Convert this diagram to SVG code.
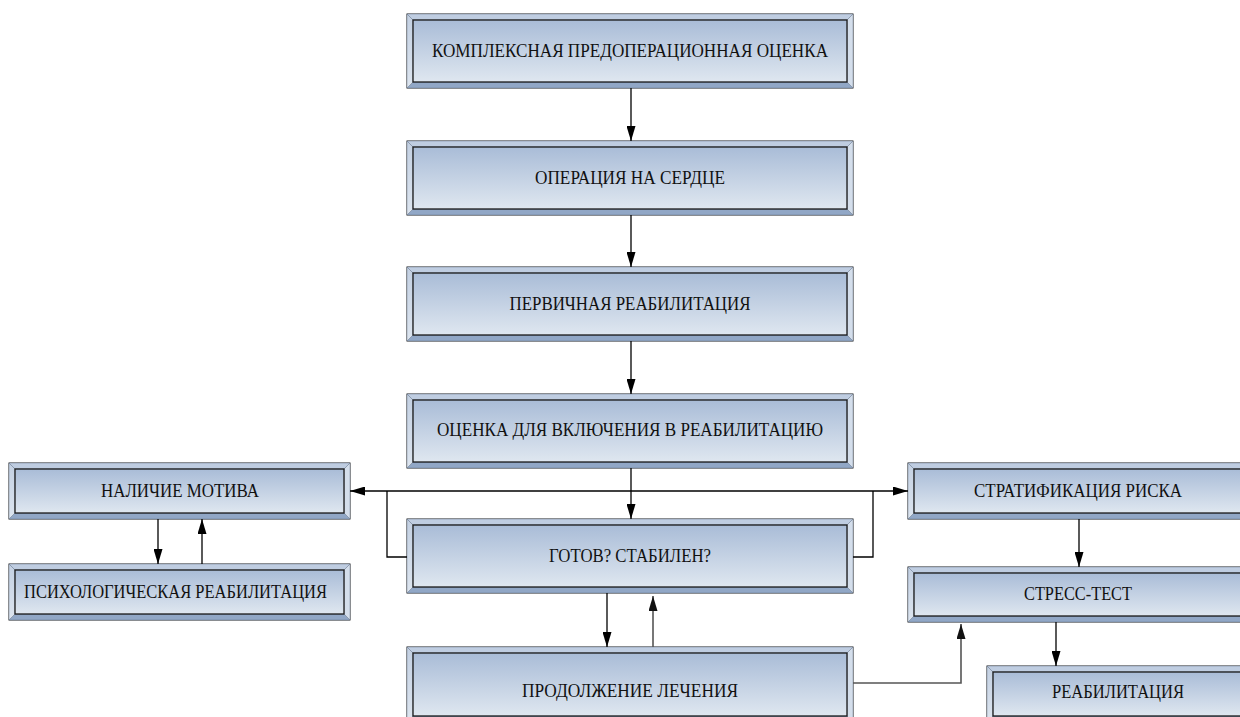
<svg xmlns="http://www.w3.org/2000/svg" width="1240" height="717" viewBox="0 0 1240 717">
<defs>
<linearGradient id="face" x1="0" y1="0" x2="0" y2="1">
<stop offset="0" stop-color="#a9bcd7"/>
<stop offset="1" stop-color="#dfe7f0"/>
</linearGradient>
<linearGradient id="side" x1="0" y1="0" x2="0" y2="1">
<stop offset="0" stop-color="#c3d0e2"/>
<stop offset="1" stop-color="#dde5ef"/>
</linearGradient>
<marker id="ah" viewBox="0 0 15 9" refX="15" refY="4.5" markerWidth="15" markerHeight="9" orient="auto" markerUnits="userSpaceOnUse">
<path d="M0,0 L15,4.5 L0,9 Z" fill="#000"/>
</marker>
<marker id="ahg" viewBox="0 0 15 9" refX="15" refY="4.5" markerWidth="15" markerHeight="9" orient="auto" markerUnits="userSpaceOnUse">
<path d="M0,0 L15,4.5 L0,9 Z" fill="#111"/>
</marker>
</defs>
<style>
.out{fill:#b8c7dc;stroke:#2a2a2a;stroke-width:1}
.bt{fill:#bfcde1;stroke:#5a6a80;stroke-width:0.4}
.bl{fill:url(#side);stroke:#5a6a80;stroke-width:0.4}
.br{fill:#d4deeb;stroke:#5a6a80;stroke-width:0.4}
.bb{fill:#91a7c6;stroke:#5a6a80;stroke-width:0.4}
.in{fill:url(#face);stroke:#1a1a1a;stroke-width:1.3}
.t{font-family:"Liberation Serif","Times New Roman",serif;font-size:18px;fill:#111;text-anchor:middle}
.c{fill:none;stroke:#000;stroke-width:1.3}
.g{fill:none;stroke:#555;stroke-width:1.6}
</style>

<g id="n1">
<rect class="out" x="407" y="14" width="446" height="74"/>
<polygon class="bt" points="407,14 853,14 847,20 413,20"/>
<polygon class="bb" points="407,88 853,88 847,82 413,82"/>
<polygon class="bl" points="407,14 413,20 413,82 407,88"/>
<polygon class="br" points="853,14 847,20 847,82 853,88"/>
<rect class="in" x="413" y="20" width="434" height="62"/>
<text class="t" x="630" y="57" textLength="396" lengthAdjust="spacingAndGlyphs">КОМПЛЕКСНАЯ ПРЕДОПЕРАЦИОННАЯ ОЦЕНКА</text>
</g>

<g id="n2">
<rect class="out" x="407" y="141" width="446" height="74"/>
<polygon class="bt" points="407,141 853,141 847,147 413,147"/>
<polygon class="bb" points="407,215 853,215 847,209 413,209"/>
<polygon class="bl" points="407,141 413,147 413,209 407,215"/>
<polygon class="br" points="853,141 847,147 847,209 853,215"/>
<rect class="in" x="413" y="147" width="434" height="62"/>
<text class="t" x="630" y="184" textLength="190" lengthAdjust="spacingAndGlyphs">ОПЕРАЦИЯ НА СЕРДЦЕ</text>
</g>

<g id="n3">
<rect class="out" x="407" y="267" width="446" height="74"/>
<polygon class="bt" points="407,267 853,267 847,273 413,273"/>
<polygon class="bb" points="407,341 853,341 847,335 413,335"/>
<polygon class="bl" points="407,267 413,273 413,335 407,341"/>
<polygon class="br" points="853,267 847,273 847,335 853,341"/>
<rect class="in" x="413" y="273" width="434" height="62"/>
<text class="t" x="630" y="310" textLength="241" lengthAdjust="spacingAndGlyphs">ПЕРВИЧНАЯ РЕАБИЛИТАЦИЯ</text>
</g>

<g id="n4">
<rect class="out" x="407" y="394" width="446" height="74"/>
<polygon class="bt" points="407,394 853,394 847,400 413,400"/>
<polygon class="bb" points="407,468 853,468 847,462 413,462"/>
<polygon class="bl" points="407,394 413,400 413,462 407,468"/>
<polygon class="br" points="853,394 847,400 847,462 853,468"/>
<rect class="in" x="413" y="400" width="434" height="62"/>
<text class="t" x="630" y="436" textLength="386" lengthAdjust="spacingAndGlyphs">ОЦЕНКА ДЛЯ ВКЛЮЧЕНИЯ В РЕАБИЛИТАЦИЮ</text>
</g>

<g id="n5">
<rect class="out" x="407" y="519" width="446" height="74"/>
<polygon class="bt" points="407,519 853,519 847,525 413,525"/>
<polygon class="bb" points="407,593 853,593 847,587 413,587"/>
<polygon class="bl" points="407,519 413,525 413,587 407,593"/>
<polygon class="br" points="853,519 847,525 847,587 853,593"/>
<rect class="in" x="413" y="525" width="434" height="62"/>
<text class="t" x="630" y="562" textLength="162" lengthAdjust="spacingAndGlyphs">ГОТОВ? СТАБИЛЕН?</text>
</g>

<g id="n6">
<rect class="out" x="407" y="647" width="446" height="75"/>
<polygon class="bt" points="407,647 853,647 847,653 413,653"/>
<polygon class="bb" points="407,722 853,722 847,716 413,716"/>
<polygon class="bl" points="407,647 413,653 413,716 407,722"/>
<polygon class="br" points="853,647 847,653 847,716 853,722"/>
<rect class="in" x="413" y="653" width="434" height="63"/>
<text class="t" x="630" y="697" textLength="216" lengthAdjust="spacingAndGlyphs">ПРОДОЛЖЕНИЕ ЛЕЧЕНИЯ</text>
</g>

<g id="n7">
<rect class="out" x="9" y="463" width="341" height="56"/>
<polygon class="bt" points="9,463 350,463 344,469 15,469"/>
<polygon class="bb" points="9,519 350,519 344,513 15,513"/>
<polygon class="bl" points="9,463 15,469 15,513 9,519"/>
<polygon class="br" points="350,463 344,469 344,513 350,519"/>
<rect class="in" x="15" y="469" width="329" height="44"/>
<text class="t" x="180" y="497" textLength="158" lengthAdjust="spacingAndGlyphs">НАЛИЧИЕ МОТИВА</text>
</g>

<g id="n8">
<rect class="out" x="9" y="564" width="341" height="56"/>
<polygon class="bt" points="9,564 350,564 344,570 15,570"/>
<polygon class="bb" points="9,620 350,620 344,614 15,614"/>
<polygon class="bl" points="9,564 15,570 15,614 9,620"/>
<polygon class="br" points="350,564 344,570 344,614 350,620"/>
<rect class="in" x="15" y="570" width="329" height="44"/>
<text class="t" x="175.5" y="598" textLength="303" lengthAdjust="spacingAndGlyphs">ПСИХОЛОГИЧЕСКАЯ РЕАБИЛИТАЦИЯ</text>
</g>

<g id="n9">
<rect class="out" x="908" y="463" width="340" height="56"/>
<polygon class="bt" points="908,463 1248,463 1242,469 914,469"/>
<polygon class="bb" points="908,519 1248,519 1242,513 914,513"/>
<polygon class="bl" points="908,463 914,469 914,513 908,519"/>
<rect class="in" x="914" y="469" width="328" height="44"/>
<text class="t" x="1078" y="497" textLength="208" lengthAdjust="spacingAndGlyphs">СТРАТИФИКАЦИЯ РИСКА</text>
</g>

<g id="n10">
<rect class="out" x="908" y="567" width="340" height="55"/>
<polygon class="bt" points="908,567 1248,567 1242,573 914,573"/>
<polygon class="bb" points="908,622 1248,622 1242,616 914,616"/>
<polygon class="bl" points="908,567 914,573 914,616 908,622"/>
<rect class="in" x="914" y="573" width="328" height="43"/>
<text class="t" x="1078" y="600" textLength="108" lengthAdjust="spacingAndGlyphs">СТРЕСС-ТЕСТ</text>
</g>

<g id="n11">
<rect class="out" x="987" y="666" width="262" height="56"/>
<polygon class="bt" points="987,666 1249,666 1243,672 993,672"/>
<polygon class="bb" points="987,722 1249,722 1243,716 993,716"/>
<polygon class="bl" points="987,666 993,672 993,716 987,722"/>
<rect class="in" x="993" y="672" width="250" height="44"/>
<text class="t" x="1118" y="698" textLength="132" lengthAdjust="spacingAndGlyphs">РЕАБИЛИТАЦИЯ</text>
</g>

<g id="connectors">
<path class="c" d="M631,88 V141" marker-end="url(#ah)"/>
<path class="c" d="M631,215 V267" marker-end="url(#ah)"/>
<path class="c" d="M631,341 V394" marker-end="url(#ah)"/>
<path class="c" d="M631,468 V519" marker-end="url(#ah)"/>
<path class="c" d="M631,491 H350" marker-end="url(#ah)"/>
<path class="c" d="M631,491 H908" marker-end="url(#ah)"/>
<path class="c" d="M387,491 V557 H407"/>
<path class="c" d="M873,491 V557 H853"/>
<path class="c" d="M607,593 V647" marker-end="url(#ah)"/>
<path class="g" d="M653,647 V596" marker-end="url(#ahg)"/>
<path class="g" d="M853,683 H961 V624" marker-end="url(#ahg)"/>
<path class="c" d="M158,519 V564" marker-end="url(#ah)"/>
<path class="c" d="M202,564 V519" marker-end="url(#ah)"/>
<path class="c" d="M1079,519 V567" marker-end="url(#ah)"/>
<path class="c" d="M1056,622 V666" marker-end="url(#ah)"/>
</g>
</svg>
